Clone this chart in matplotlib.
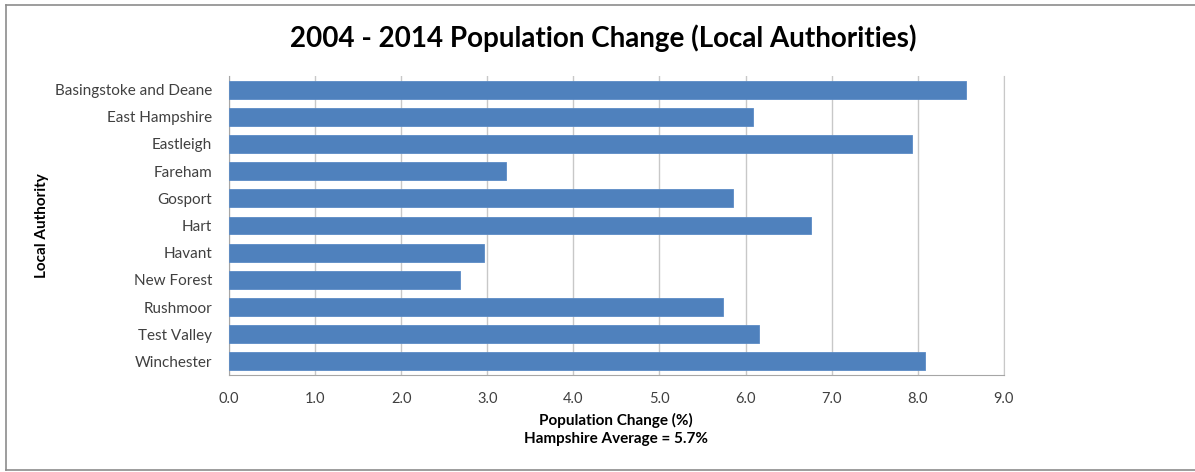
import matplotlib.pyplot as plt
from matplotlib.lines import Line2D

# data
authorities = ['Basingstoke and Deane', 'East Hampshire', 'Eastleigh', 'Fareham',
               'Gosport', 'Hart', 'Havant', 'New Forest', 'Rushmoor',
               'Test Valley', 'Winchester']
change = [8.56, 6.09, 7.93, 3.22, 5.85, 6.76, 2.96, 2.68, 5.74, 6.15, 8.08]
xticks = [0, 1, 2, 3, 4, 5, 6, 7, 8, 9]

plt.rcParams['font.family'] = ['Lato', 'DejaVu Sans']

fig = plt.figure(figsize=(11.95, 4.72), dpi=100)
ax = fig.add_axes([0.1916, 0.2055, 0.6485, 0.6335])

# outer chart border (left, top, bottom; right side is cut off)
l, t, b = 6/1195, 1 - 5/472, 1 - 470/472
for xs, ys in [([l, l], [b, t]), ([l, 1], [t, t]), ([l, 1], [b, b])]:
    fig.add_artist(Line2D(xs, ys, transform=fig.transFigure,
                          color='#8c8c8c', linewidth=1.2))

ypos = list(range(len(authorities)))
ax.barh(ypos, change, height=0.66, color='#4F81BD', edgecolor='#5b8bc6',
        linewidth=0.6, zorder=3)
ax.set_ylim(len(authorities) - 0.5, -0.5)
ax.set_xlim(0, 9)
ax.set_yticks(ypos)
ax.set_yticklabels(authorities)
ax.set_xticks(xticks)
ax.set_xticklabels(['%.1f' % t for t in xticks])

ax.grid(axis='x', color='#c8c8c8', linewidth=1, zorder=0)
ax.spines['top'].set_visible(False)
ax.spines['right'].set_color('#c8c8c8')
ax.spines['left'].set_color('#a6a6a6')
ax.spines['bottom'].set_color('#a6a6a6')
ax.tick_params(axis='both', length=0, colors='#404040')
ax.tick_params(axis='x', pad=12, labelsize=10.5)
ax.tick_params(axis='y', pad=12, labelsize=11)

ax.set_ylabel('Local Authority', fontsize=11, fontweight='bold')
ax.yaxis.set_label_coords(-0.2325, 0.5)

# x axis title, two lines
xc = 616/1195
fig.text(xc, 1 - 420/472, 'Population Change (%)', ha='center', va='center',
         fontsize=11, fontweight='bold')
fig.text(xc, 1 - 439/472, 'Hampshire Average = 5.7%', ha='center', va='center',
         fontsize=11, fontweight='bold')

fig.text(603/1195, 1 - 38/472, '2004 - 2014 Population Change (Local Authorities)',
         ha='center', va='center', fontsize=20, fontweight='bold', color='#000000')

fig.savefig('out.png', dpi=100)
